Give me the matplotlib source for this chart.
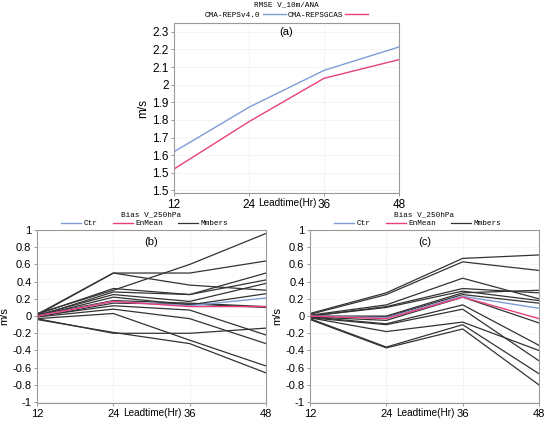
import matplotlib
matplotlib.use("Agg")
import matplotlib.pyplot as plt
from matplotlib import font_manager
from matplotlib.transforms import blended_transform_factory, offset_copy

leadtimes = [12, 24, 36, 48]

# Panel (a): RMSE V_10m/ANA
rmse_v40 = [1.619, 1.872, 2.081, 2.214]
rmse_gcas = [1.521, 1.790, 2.036, 2.142]
a_yticks = [1.4, 1.5, 1.6, 1.7, 1.8, 1.9, 2.0, 2.1, 2.2, 2.3]
a_yticklabels = ["1.5", "1.5", "1.6", "1.7", "1.8", "1.9", "2", "2.1", "2.2", "2.3"]

# Panel (b): Bias V_250hPa
b_members = [
    [0.03, 0.30, 0.60, 0.96],
    [0.02, 0.50, 0.50, 0.64],
    [0.01, 0.50, 0.36, 0.30],
    [0.02, 0.32, 0.25, 0.50],
    [0.00, 0.28, 0.25, 0.42],
    [0.01, 0.25, 0.17, 0.38],
    [0.00, 0.22, 0.13, 0.26],
    [-0.01, 0.15, 0.14, 0.10],
    [0.00, 0.12, 0.07, -0.22],
    [-0.01, 0.08, -0.03, -0.32],
    [-0.03, 0.03, -0.28, -0.58],
    [-0.04, -0.19, -0.32, -0.66],
    [-0.03, -0.20, -0.20, -0.14],
    [0.01, 0.18, 0.15, 0.11],
]
b_ctr = [0.00, 0.17, 0.12, 0.21]
b_enmean = [0.00, 0.17, 0.11, 0.11]

# Panel (c): Bias V_250hPa
c_members = [
    [0.03, 0.27, 0.67, 0.71],
    [0.02, 0.25, 0.63, 0.53],
    [0.01, 0.13, 0.44, 0.20],
    [0.00, 0.11, 0.32, 0.27],
    [0.00, 0.10, 0.29, 0.18],
    [0.00, 0.00, 0.27, 0.30],
    [-0.01, -0.01, 0.25, 0.15],
    [-0.01, -0.05, 0.22, -0.08],
    [-0.01, -0.09, 0.13, -0.34],
    [-0.02, -0.10, 0.08, -0.52],
    [-0.02, -0.18, -0.07, -0.40],
    [-0.03, -0.36, -0.10, -0.67],
    [-0.04, -0.37, -0.15, -0.80],
]
c_ctr = [0.00, -0.02, 0.23, 0.09]
c_enmean = [0.00, -0.03, 0.22, -0.03]
bias_yticks = [-1, -0.8, -0.6, -0.4, -0.2, 0, 0.2, 0.4, 0.6, 0.8, 1]
bias_yticklabels = ["-1", "-0.8", "-0.6", "-0.4", "-0.2", "0", "0.2", "0.4", "0.6", "0.8", "1"]

BLUE = "#7f9cd8"
PINK = "#e8407c"
MEMB = "#333333"
_names = {f.name for f in font_manager.fontManager.ttflist}
NARROW = "Liberation Sans Narrow" in _names
TICKFONT = "Liberation Sans Narrow" if NARROW else "Liberation Sans"
MONO = "Liberation Mono"
TF_A = 9.5 if NARROW else 8.5
TF_B = 9.0 if NARROW else 8.0
LT_FS = 8.3 if NARROW else 7.2

fig = plt.figure(figsize=(5.5, 4.21), dpi=100)
W, H = 550, 421

def add_axes(l, t, r, b):
    return fig.add_axes([l / W, 1 - b / H, (r - l) / W, (b - t) / H])

def style(ax, ylim, yticks, ylabels, fs):
    ax.set_xlim(12, 48)
    ax.set_ylim(*ylim)
    ax.set_xticks(leadtimes)
    ax.set_xticklabels([str(v) for v in leadtimes], fontsize=fs, family=TICKFONT)
    ax.set_yticks(yticks)
    ax.set_yticklabels(ylabels, fontsize=fs, family=TICKFONT)
    ax.tick_params(length=2.5, width=0.6, color="#888888", pad=1.5)
    ax.grid(True, color="#e6e6e6", linestyle=(0, (1, 1)), linewidth=0.6)
    for s in ax.spines.values():
        s.set_color("#999999")
        s.set_linewidth(0.8)
    ax.set_ylabel("m/s", fontsize=fs, family=TICKFONT, labelpad=2)
    tr = blended_transform_factory(ax.transData, ax.transAxes)
    tr = offset_copy(tr, fig=fig, x=0, y=-4.5, units="dots")
    ax.text(30.2, 0, "Leadtime(Hr)", transform=tr, ha="center", va="top",
            fontsize=LT_FS, family=TICKFONT)

# ---- Panel (a)
ax_a = add_axes(174, 23, 399, 193)
ax_a.plot(leadtimes, rmse_v40, color=BLUE, lw=1.0, label="CMA-REPSv4.0")
ax_a.plot(leadtimes, rmse_gcas, color=PINK, lw=1.0, label="CMA-REPSGCAS")
style(ax_a, (1.385, 2.35), a_yticks, a_yticklabels, TF_A)
ax_a.text(0.5, 0.945, "(a)", transform=ax_a.transAxes, ha="center", va="center",
          fontsize=8, family="Liberation Sans")
ax_a.text(0.5, 1.105, "RMSE V_10m/ANA", transform=ax_a.transAxes, ha="center",
          va="center", fontsize=5.5, family=MONO)
ax_a.legend(loc="center", bbox_to_anchor=(0.5, 1.045), ncol=2, frameon=False,
            markerfirst=False, prop={"family": MONO, "size": 5.5},
            handlelength=3.0, handletextpad=0.3, columnspacing=0.2,
            borderpad=0, borderaxespad=0)

# ---- Panels (b), (c)
def bias_panel(l, r, members, ctr, enmean, tag):
    ax = add_axes(l, 230, r, 403)
    for i, m in enumerate(members):
        ax.plot(leadtimes, m, color=MEMB, lw=0.9,
                label="Mmbers" if i == 0 else None, zorder=2)
    ax.plot(leadtimes, ctr, color=BLUE, lw=1.0, label="Ctr", zorder=3)
    ax.plot(leadtimes, enmean, color=PINK, lw=1.0, label="EnMean", zorder=4)
    style(ax, (-1.01, 1.0), bias_yticks, bias_yticklabels, TF_B)
    ax.text(0.5, 0.93, tag, transform=ax.transAxes, ha="center", va="center",
            fontsize=8, family="Liberation Sans")
    ax.text(0.5, 1.09, "Bias V_250hPa", transform=ax.transAxes, ha="center",
            va="center", fontsize=5.5, family=MONO)
    h, lab = ax.get_legend_handles_labels()
    order = [lab.index("Ctr"), lab.index("EnMean"), lab.index("Mmbers")]
    ax.legend([h[i] for i in order], [lab[i] for i in order], loc="center",
              bbox_to_anchor=(0.47, 1.037), ncol=3, frameon=False,
              prop={"family": MONO, "size": 5.5}, handlelength=2.6,
              handletextpad=0.3, columnspacing=2.0, borderpad=0,
              borderaxespad=0)
    return ax

bias_panel(37, 266, b_members, b_ctr, b_enmean, "(b)")
bias_panel(310, 539, c_members, c_ctr, c_enmean, "(c)")

fig.savefig("out.png", dpi=100)
